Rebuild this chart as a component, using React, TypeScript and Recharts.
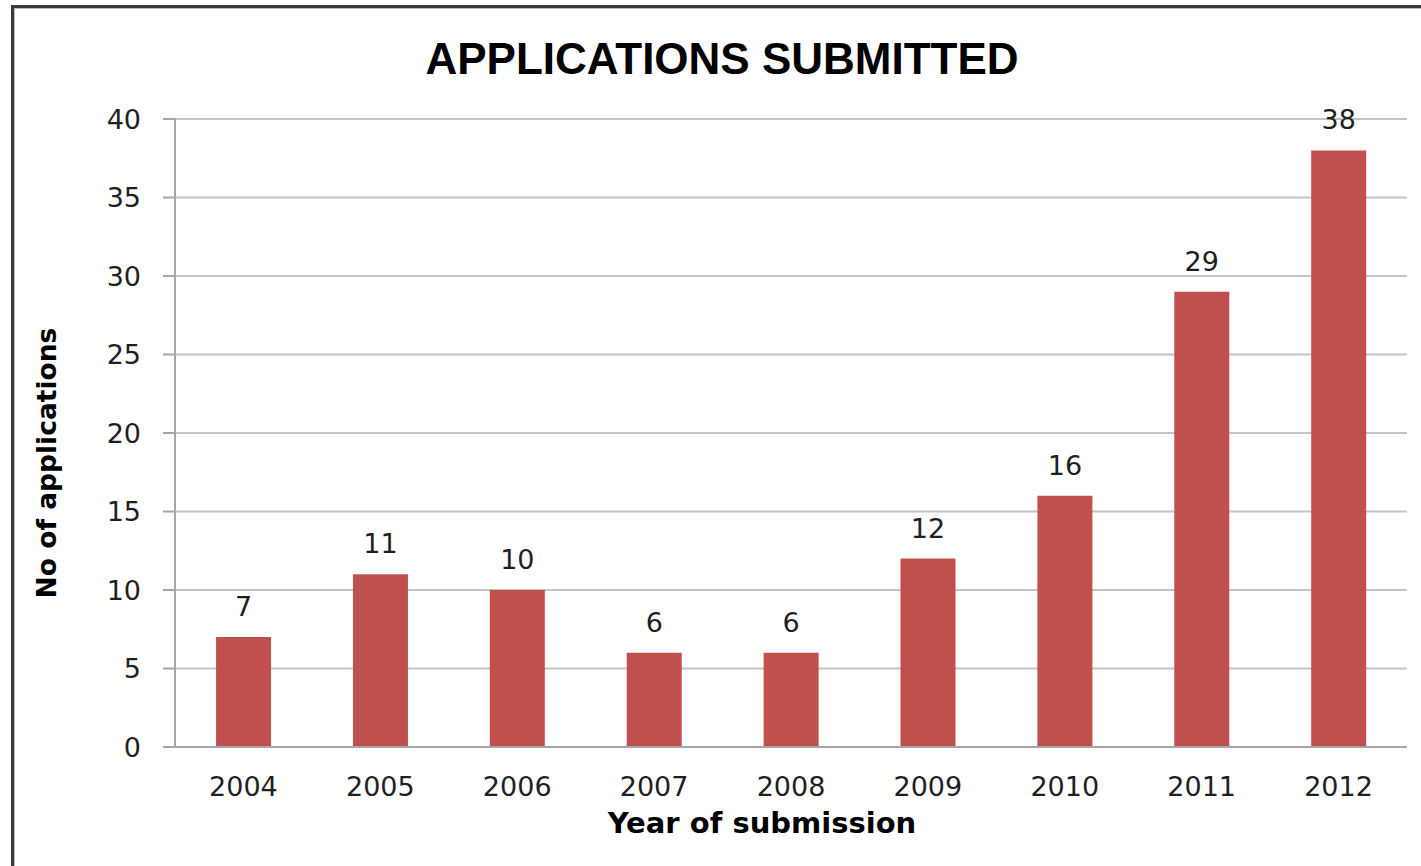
import React from 'react';
import { BarChart, Bar, XAxis, YAxis, CartesianGrid, LabelList, Label } from 'recharts';

const years = ['2004', '2005', '2006', '2007', '2008', '2009', '2010', '2011', '2012'];
const applications = [7, 11, 10, 6, 6, 12, 16, 29, 38];
const yTicks = [0, 5, 10, 15, 20, 25, 30, 35, 40];

const data = years.map((year, i) => ({ year, count: applications[i] }));

const tickFont = { fontFamily: 'DejaVu Sans', fontSize: 27, fill: '#1f1f1f' };

const App: React.FC = () => {
  return (
    <div style={{ position: 'absolute', left: 0, top: 0, width: 1421, height: 866, overflow: 'hidden', background: '#fff' }}>
      {/* frame of the original picture */}
      <div
        style={{
          position: 'absolute',
          left: 11,
          top: 5,
          width: 1420,
          height: 880,
          border: '3px solid #3a3a3a',
          boxShadow: 'inset 1px 1px 0 #bbb',
        }}
      />
      <div
        style={{
          position: 'absolute',
          left: 0,
          top: 34,
          width: 1444,
          textAlign: 'center',
          fontFamily: 'Liberation Sans',
          fontWeight: 'bold',
          fontSize: 44,
          color: '#000',
        }}
      >
        APPLICATIONS SUBMITTED
      </div>
      <div style={{ position: 'absolute', left: 0, top: 0 }}>
        <BarChart
          width={1421}
          height={866}
          data={data}
          margin={{ top: 119, right: 14, left: 0, bottom: 0 }}
          barCategoryGap="30%"
        >
          <CartesianGrid vertical={false} stroke="#c4c4c4" strokeWidth={2} />
          <XAxis
            dataKey="year"
            height={119}
            tickLine={false}
            axisLine={{ stroke: '#a6a6a6', strokeWidth: 2 }}
            tick={tickFont}
            tickMargin={24}
            interval={0}
          >
            <Label
              content={() => (
                <text
                  x={762}
                  y={833}
                  textAnchor="middle"
                  fontFamily="DejaVu Sans"
                  fontWeight="bold"
                  fontSize={29}
                  fill="#000"
                >
                  Year of submission
                </text>
              )}
            />
          </XAxis>
          <YAxis
            width={175}
            domain={[0, 40]}
            ticks={yTicks}
            interval={0}
            tickSize={12}
            tickMargin={22}
            tickLine={{ stroke: '#a6a6a6', strokeWidth: 2 }}
            axisLine={{ stroke: '#a6a6a6', strokeWidth: 2 }}
            tick={tickFont}
          >
            <Label
              content={() => (
                <text
                  x={56}
                  y={463}
                  transform="rotate(-90 56 463)"
                  textAnchor="middle"
                  fontFamily="DejaVu Sans"
                  fontWeight="bold"
                  fontSize={26.5}
                  fill="#000"
                >
                  No of applications
                </text>
              )}
            />
          </YAxis>
          <Bar dataKey="count" fill="#c0504d" isAnimationActive={false}>
            <LabelList dataKey="count" position="top" offset={21} style={tickFont} />
          </Bar>
        </BarChart>
      </div>
    </div>
  );
};

export default App;
